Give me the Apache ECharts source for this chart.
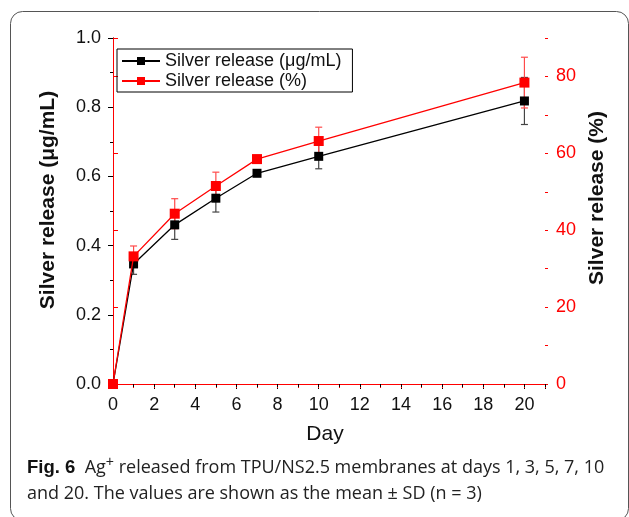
<!DOCTYPE html>
<html>
<head>
<meta charset="utf-8">
<script src="https://cdn.jsdelivr.net/npm/echarts@6/dist/echarts.min.js"></script>
<style>
  html, body { margin: 0; padding: 0; background: #fff; }
  #chart { width: 629px; height: 517px; }
</style>
</head>
<body>
<div id="chart"></div>
<script>
const days = [0, 1, 3, 5, 7, 10, 20]
const releaseUg = [0, 0.347, 0.46, 0.537, 0.609, 0.658, 0.818]
const sdUg = [0, 0.03, 0.042, 0.04, 0.008, 0.036, 0.068]
const releasePct = [0, 33.2, 44.3, 51.5, 58.5, 63.2, 78.4]
const sdPct = [0, 2.7, 3.9, 3.6, 1, 3.6, 6.6]

const AXIS_FONT = '"Liberation Sans", Arial, sans-serif'
const RED = '#ff0000'

const pairs = (vals) => days.map((d, i) => [d, vals[i]])

const errorBars = (vals, sds, color, yIndex) => ({
  type: 'custom',
  xAxisIndex: 0,
  yAxisIndex: yIndex,
  silent: true,
  z: 1,
  data: days.map((d, i) => [d, vals[i] - sds[i], vals[i] + sds[i]]),
  renderItem: (params, api) => {
    const lo = api.coord([api.value(0), api.value(1)])
    const hi = api.coord([api.value(0), api.value(2)])
    const w = 3.5
    const style = { stroke: color, lineWidth: 1.2 }
    return {
      type: 'group',
      children: [
        { type: 'line', shape: { x1: lo[0], y1: lo[1], x2: hi[0], y2: hi[1] }, style },
        { type: 'line', shape: { x1: lo[0] - w, y1: lo[1], x2: lo[0] + w, y2: lo[1] }, style },
        { type: 'line', shape: { x1: hi[0] - w, y1: hi[1], x2: hi[0] + w, y2: hi[1] }, style },
      ],
    }
  },
})

// extra axes that only draw the short minor ticks
const minorAxis = (base, extra) => ({
  ...base,
  axisLine: { show: false },
  axisLabel: { show: false },
  splitLine: { show: false },
  ...extra,
})

const chart = echarts.init(document.getElementById('chart'))

chart.setOption({
  animation: false,
  backgroundColor: '#fff',
  grid: { left: 113, right: 84, top: 38, bottom: 133 },
  legend: {
    left: 117,
    top: 49,
    orient: 'vertical',
    borderColor: '#000',
    borderWidth: 1,
    borderRadius: 0,
    padding: [3, 11, 2, 4],
    itemGap: 2,
    itemWidth: 38,
    itemHeight: 10,
    data: ['Silver release (μg/mL)', 'Silver release (%)'],
    textStyle: { fontFamily: AXIS_FONT, fontSize: 18, color: '#111' },
  },
  xAxis: [
    {
      type: 'value',
      min: 0,
      max: 21,
      interval: 2,
      name: 'Day',
      nameLocation: 'middle',
      nameGap: 40,
      nameTextStyle: { fontFamily: AXIS_FONT, fontSize: 21, color: '#111', padding: [0, 8, 0, 0] },
      axisLine: { lineStyle: { color: '#000', width: 1 } },
      axisTick: { length: 5, lineStyle: { color: '#000' } },
      axisLabel: {
        fontFamily: AXIS_FONT,
        fontSize: 18,
        color: '#111',
        margin: 12,
        formatter: (v) => (v % 2 === 0 ? String(v) : ''),
      },
      splitLine: { show: false },
    },
    {
      type: 'value',
      position: 'top',
      min: 0,
      max: 21,
      interval: 1,
      axisLine: { lineStyle: { color: RED, width: 1 } },
      axisTick: { inside: true, length: 4, lineStyle: { color: RED } },
      axisLabel: { show: false },
      splitLine: { show: false },
    },
    minorAxis(
      { type: 'value', position: 'bottom', min: 0, max: 21, interval: 1 },
      { axisTick: { length: 3, lineStyle: { color: '#000' } } }
    ),
  ],
  yAxis: [
    {
      type: 'value',
      min: 0,
      max: 1,
      interval: 0.2,
      name: 'Silver release (μg/mL)',
      nameLocation: 'middle',
      nameGap: 54,
      nameTextStyle: {
        fontFamily: AXIS_FONT,
        fontSize: 21,
        fontWeight: 'bold',
        color: '#111',
        padding: [0, 0, 0, 22],
      },
      axisLine: { show: true, lineStyle: { color: '#000', width: 1 } },
      axisTick: { show: true, length: 5, lineStyle: { color: '#000' } },
      axisLabel: {
        fontFamily: AXIS_FONT,
        fontSize: 18,
        color: '#111',
        margin: 12,
        formatter: (v) => v.toFixed(1),
      },
      splitLine: { show: false },
    },
    {
      type: 'value',
      min: 0,
      max: 90,
      interval: 20,
      name: 'Silver release (%)',
      nameLocation: 'middle',
      nameGap: 42,
      nameRotate: 90,
      nameTextStyle: {
        fontFamily: AXIS_FONT,
        fontSize: 21,
        fontWeight: 'bold',
        color: '#111',
        padding: [0, 0, 0, 26],
      },
      axisLine: { show: true, lineStyle: { color: RED, width: 1 } },
      axisTick: { show: true, length: 5, lineStyle: { color: RED } },
      axisLabel: {
        fontFamily: AXIS_FONT,
        fontSize: 18,
        color: RED,
        margin: 11,
        formatter: (v) => (v > 80 ? '' : String(v)),
      },
      splitLine: { show: false },
    },
    minorAxis(
      { type: 'value', position: 'left', min: 0, max: 1, interval: 0.1 },
      { axisTick: { show: true, length: 3, lineStyle: { color: '#000' } } }
    ),
    minorAxis(
      { type: 'value', position: 'right', min: 0, max: 90, interval: 10 },
      { axisTick: { show: true, length: 3, lineStyle: { color: RED } } }
    ),
  ],
  series: [
    errorBars(releaseUg, sdUg, '#444', 0),
    errorBars(releasePct, sdPct, '#ff4a4a', 1),
    {
      name: 'Silver release (μg/mL)',
      type: 'line',
      yAxisIndex: 0,
      data: pairs(releaseUg),
      symbol: 'rect',
      symbolSize: 9,
      z: 3,
      lineStyle: { color: '#000', width: 1.3 },
      itemStyle: { color: '#000' },
    },
    {
      name: 'Silver release (%)',
      type: 'line',
      yAxisIndex: 1,
      data: pairs(releasePct),
      symbol: 'rect',
      symbolSize: 10,
      z: 4,
      lineStyle: { color: RED, width: 1.3 },
      itemStyle: { color: RED },
    },
  ],
  graphic: [
    {
      type: 'rect',
      silent: true,
      z: -1,
      shape: { x: 10.5, y: 11.5, width: 618, height: 509, r: 12 },
      style: { fill: 'none', stroke: '#555', lineWidth: 1 },
    },
    {
      type: 'text',
      left: 27,
      top: 455,
      style: {
        text: '{b|Fig. 6}  Ag{sup|+} released from TPU/NS2.5 membranes at days 1, 3, 5, 7, 10\nand 20. The values are shown as the mean ± SD ({i|n} = 3)',
        fontFamily: '"Open Sans", "Noto Sans", sans-serif',
        fontSize: 18,
        lineHeight: 26,
        fill: '#222',
        rich: {
          b: { fontWeight: 'bold', fontSize: 18.5, fill: '#111' },
          sup: { fontSize: 14, verticalAlign: 'top', lineHeight: 24 },
          i: { fontStyle: 'italic' },
        },
      },
    },
  ],
})
</script>
</body>
</html>
